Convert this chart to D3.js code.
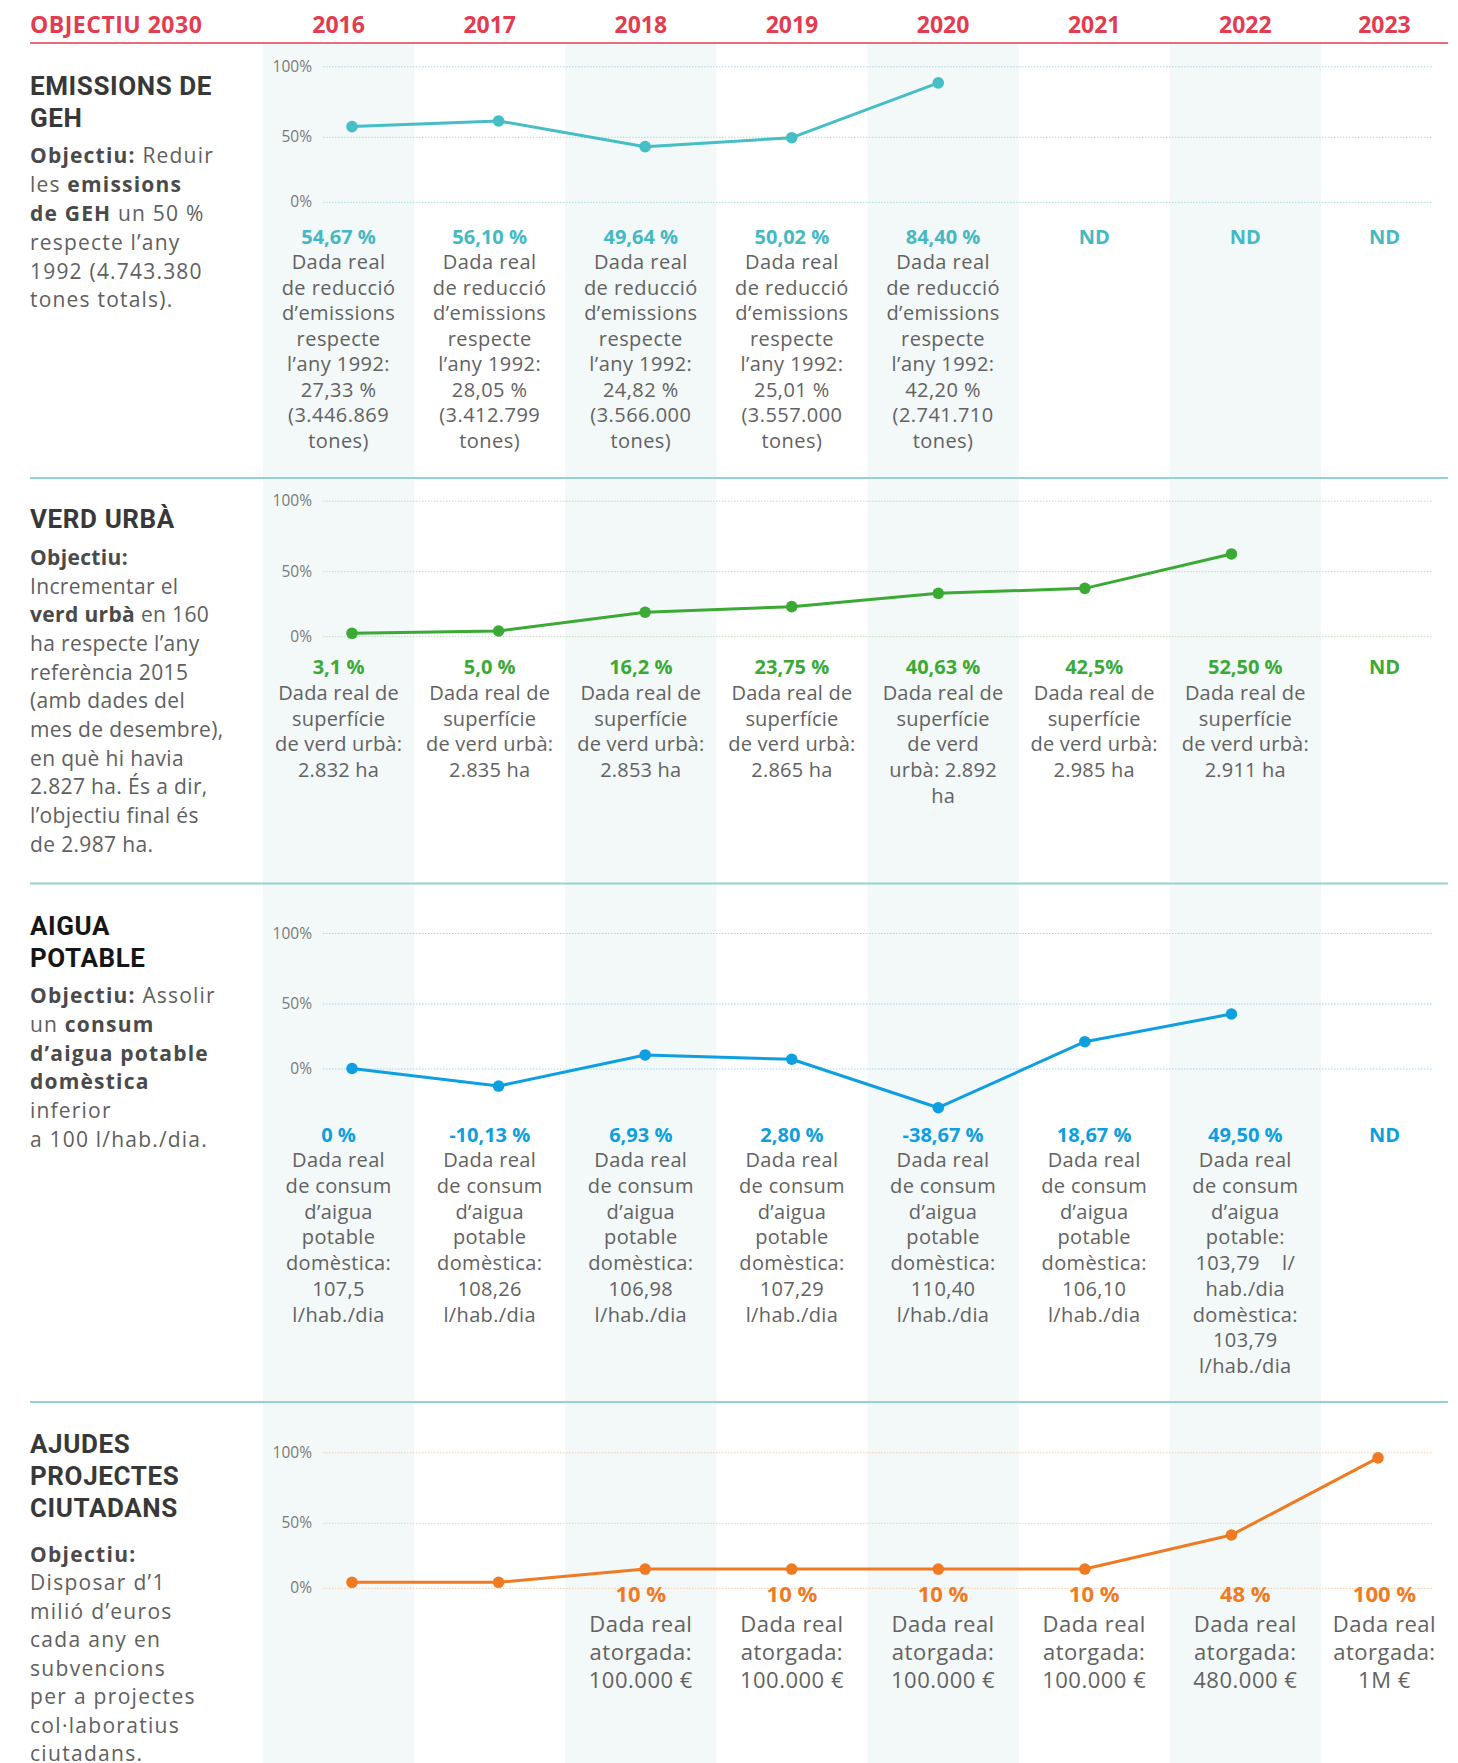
<!DOCTYPE html>
<html>
<head>
<meta charset="utf-8">
<script src="https://cdn.jsdelivr.net/npm/d3@7/dist/d3.min.js"></script>
<style>
  html, body { margin: 0; padding: 0; background: #fff; }
  svg { display: block; font-family: "Open Sans", sans-serif; }
</style>
</head>
<body>
<svg id="chart" width="1458" height="1763"></svg>
<script>
// ---------------- DATA ----------------
const headerLabel = "OBJECTIU 2030";
const years = ["2016", "2017", "2018", "2019", "2020", "2021", "2022", "2023"];
const tickValues = [0, 50, 100];
const tickLabels = ["0%", "50%", "100%"];

// Emissions de GEH (plotted values)
const emissionsValues = [57.6, 61.6, 42.8, 49.7, 88.6, null, null, null];
const emissionsLabels = ["54,67 %", "56,10 %", "49,64 %", "50,02 %", "84,40 %", "ND", "ND", "ND"];
const emissionsNotes = [
  ["Dada real", "de reducció", "d’emissions", "respecte", "l’any 1992:", "27,33 %", "(3.446.869", "tones)"],
  ["Dada real", "de reducció", "d’emissions", "respecte", "l’any 1992:", "28,05 %", "(3.412.799", "tones)"],
  ["Dada real", "de reducció", "d’emissions", "respecte", "l’any 1992:", "24,82 %", "(3.566.000", "tones)"],
  ["Dada real", "de reducció", "d’emissions", "respecte", "l’any 1992:", "25,01 %", "(3.557.000", "tones)"],
  ["Dada real", "de reducció", "d’emissions", "respecte", "l’any 1992:", "42,20 %", "(2.741.710", "tones)"],
  [], [], []
];
const emissionsTitle = ["EMISSIONS DE", "GEH"];
const emissionsDesc = ["**Objectiu:** Reduir", "les **emissions**", "**de GEH** un 50 %", "respecte l’any", "1992 (4.743.380", "tones totals)."];

// Verd urbà
const verdValues = [2.6, 4.4, 18.8, 23.1, 33.4, 37.2, 62.6, null];
const verdLabels = ["3,1 %", "5,0 %", "16,2 %", "23,75 %", "40,63 %", "42,5%", "52,50 %", "ND"];
const verdNotes = [
  ["Dada real de", "superfície", "de verd urbà:", "2.832 ha"],
  ["Dada real de", "superfície", "de verd urbà:", "2.835 ha"],
  ["Dada real de", "superfície", "de verd urbà:", "2.853 ha"],
  ["Dada real de", "superfície", "de verd urbà:", "2.865 ha"],
  ["Dada real de", "superfície", "de verd", "urbà: 2.892", "ha"],
  ["Dada real de", "superfície", "de verd urbà:", "2.985 ha"],
  ["Dada real de", "superfície", "de verd urbà:", "2.911 ha"],
  []
];
const verdTitle = ["VERD URBÀ"];
const verdDesc = ["**Objectiu:**", "Incrementar el", "**verd urbà** en 160", "ha respecte l’any", "referència 2015", "(amb dades del", "mes de desembre),", "en què hi havia", "2.827 ha. És a dir,", "l’objectiu final és", "de 2.987 ha."];

// Aigua potable
const aiguaValues = [0.4, -13.1, 10.8, 7.5, -29.8, 21.0, 42.3, null];
const aiguaLabels = ["0 %", "-10,13 %", "6,93 %", "2,80 %", "-38,67 %", "18,67 %", "49,50 %", "ND"];
const aiguaNotes = [
  ["Dada real", "de consum", "d’aigua", "potable", "domèstica:", "107,5", "l/hab./dia"],
  ["Dada real", "de consum", "d’aigua", "potable", "domèstica:", "108,26", "l/hab./dia"],
  ["Dada real", "de consum", "d’aigua", "potable", "domèstica:", "106,98", "l/hab./dia"],
  ["Dada real", "de consum", "d’aigua", "potable", "domèstica:", "107,29", "l/hab./dia"],
  ["Dada real", "de consum", "d’aigua", "potable", "domèstica:", "110,40", "l/hab./dia"],
  ["Dada real", "de consum", "d’aigua", "potable", "domèstica:", "106,10", "l/hab./dia"],
  ["Dada real", "de consum", "d’aigua", "potable:", "103,79\u00a0\u00a0\u00a0\u00a0l/", "hab./dia", "domèstica:", "103,79", "l/hab./dia"],
  []
];
const aiguaTitle = ["AIGUA", "POTABLE"];
const aiguaDesc = ["**Objectiu:** Assolir", "un **consum**", "**d’aigua potable**", "**domèstica**", "inferior", "a 100 l/hab./dia."];

// Ajudes projectes ciutadans
const ajudesValues = [4.6, 4.6, 14.8, 14.8, 14.8, 14.8, 41.0, 96.4];
const ajudesLabels = ["", "", "10 %", "10 %", "10 %", "10 %", "48 %", "100 %"];
const ajudesNotes = [
  [], [],
  ["Dada real", "atorgada:", "100.000 €"],
  ["Dada real", "atorgada:", "100.000 €"],
  ["Dada real", "atorgada:", "100.000 €"],
  ["Dada real", "atorgada:", "100.000 €"],
  ["Dada real", "atorgada:", "480.000 €"],
  ["Dada real", "atorgada:", "1M €"]
];
const ajudesTitle = ["AJUDES", "PROJECTES", "CIUTADANS"];
const ajudesDesc = ["**Objectiu:**", "Disposar d’1", "milió d’euros", "cada any en", "subvencions", "per a projectes", "col·laboratius", "ciutadans."];

// ---------------- LAYOUT ----------------
const W = 1458, H = 1763;
const RIGHT = 1448;
const svg = d3.select("#chart");
const colScale = d3.scaleBand().domain(years).range([263, 1472]);
const colCenter = d => (colScale(d) + Math.min(colScale(d) + colScale.bandwidth(), RIGHT)) / 2;
const xScale = d3.scalePoint().domain(years).range([352, 1378]);
const RED = "#e33b4f";

// shaded columns
svg.append("g").selectAll("rect")
  .data(years.filter((d, i) => i % 2 === 0 && i < 7))
  .join("rect")
  .attr("x", d => colScale(d)).attr("y", 44)
  .attr("width", colScale.bandwidth()).attr("height", H - 44)
  .attr("fill", "#f3f8f8");

// header
svg.append("text").attr("x", 30).attr("y", 33)
  .attr("font-size", 23).attr("font-weight", 700).attr("fill", RED)
  .attr("letter-spacing", 0.5)
  .text(headerLabel);
svg.append("g").selectAll("text").data(years).join("text")
  .attr("x", d => colCenter(d)).attr("y", 33)
  .attr("text-anchor", "middle").attr("font-size", 23).attr("font-weight", 700)
  .attr("fill", RED).text(d => d);
svg.append("line").attr("x1", 30).attr("x2", RIGHT).attr("y1", 43).attr("y2", 43)
  .attr("stroke", RED).attr("stroke-width", 1.6);

// separators
[478, 883.5, 1402].forEach(y => {
  svg.append("line").attr("x1", 30).attr("x2", RIGHT).attr("y1", y).attr("y2", y)
    .attr("stroke", "#96d2d2").attr("stroke-width", 2);
});

const sections = [
  { values: emissionsValues, labels: emissionsLabels, notes: emissionsNotes, title: emissionsTitle, desc: emissionsDesc,
    color: "#45bec6", labelColor: "#45b9c3", grid: "#a9dbde", y0: 202.3,
    titleY: 95, titleLH: 31.7, titleColor: "#383838", descY: 163.3, descLH: 28.8, descLS: 1.2,
    labelY: 244, noteY: 269.3, noteLH: 25.5, noteSize: 20, labelSize: 20, noteLS: 0.45 },
  { values: verdValues, labels: verdLabels, notes: verdNotes, title: verdTitle, desc: verdDesc,
    color: "#3aaa35", labelColor: "#3aaa35", grid: "#bfdcbd", y0: 636.7,
    titleY: 528.3, titleLH: 31.7, titleColor: "#383838", descY: 565, descLH: 28.67, descLS: 0.35,
    labelY: 674.3, noteY: 700, noteLH: 25.7, noteSize: 20, labelSize: 20, noteLS: 0.2 },
  { values: aiguaValues, labels: aiguaLabels, notes: aiguaNotes, title: aiguaTitle, desc: aiguaDesc,
    color: "#0e9fe0", labelColor: "#0e9fe0", grid: "#a3d5f0", y0: 1069,
    titleY: 935, titleLH: 32.3, titleColor: "#161616", descY: 1003.3, descLH: 28.7, descLS: 1.2,
    labelY: 1141.7, noteY: 1167.3, noteLH: 25.7, noteSize: 20, labelSize: 20, noteLS: 0.35 },
  { values: ajudesValues, labels: ajudesLabels, notes: ajudesNotes, title: ajudesTitle, desc: ajudesDesc,
    color: "#f07a22", labelColor: "#f07a22", grid: "#f5cba9", y0: 1588.3,
    titleY: 1453.3, titleLH: 32, titleColor: "#383838", descY: 1561.7, descLH: 28.5, descLS: 1.3,
    labelY: 1601.7, noteY: 1631.7, noteLH: 28.3, noteSize: 22, labelSize: 22, noteLS: 0.5 }
];

function richLine(textSel, str, normalColor, boldColor) {
  const parts = str.split("**");
  parts.forEach((p, i) => {
    if (!p) return;
    textSel.append("tspan")
      .attr("font-weight", i % 2 === 1 ? 700 : 400)
      .attr("fill", i % 2 === 1 ? boldColor : normalColor)
      .text(p);
  });
}

sections.forEach(s => {
  const g = svg.append("g");
  const y = d3.scaleLinear().domain([0, 50, 100]).range([s.y0, s.y0 - 65, s.y0 - 135.5]);

  // gridlines + tick labels
  g.append("g").selectAll("line").data(tickValues).join("line")
    .attr("x1", 323).attr("x2", 1433)
    .attr("y1", d => y(d)).attr("y2", d => y(d))
    .attr("stroke", s.grid).attr("stroke-width", 1).attr("stroke-dasharray", "1.5,1.5");
  g.append("g").selectAll("text").data(tickValues).join("text")
    .attr("x", 312).attr("y", d => y(d) + 5)
    .attr("text-anchor", "end").attr("font-size", 15.5).attr("fill", "#7a7a7a")
    .text((d, i) => tickLabels[i]);

  // line + points
  const pts = years.map((yr, i) => ({ yr, v: s.values[i] }));
  const line = d3.line().defined(d => d.v != null).x(d => xScale(d.yr)).y(d => y(d.v));
  g.append("path").datum(pts).attr("d", line)
    .attr("fill", "none").attr("stroke", s.color).attr("stroke-width", 3)
    .attr("stroke-linejoin", "round");
  g.append("g").selectAll("circle").data(pts.filter(d => d.v != null)).join("circle")
    .attr("cx", d => xScale(d.yr)).attr("cy", d => y(d.v)).attr("r", 5.8)
    .attr("fill", s.color);

  // title (one text per line)
  s.title.forEach((ln, i) => {
    g.append("text").attr("x", 30).attr("y", s.titleY + i * s.titleLH)
      .attr("font-family", "Roboto, 'Open Sans', sans-serif")
      .attr("font-size", 26).attr("font-weight", 700).attr("letter-spacing", 0.6)
      .attr("fill", s.titleColor).text(ln);
  });

  // description
  s.desc.forEach((ln, i) => {
    const tx = g.append("text").attr("x", 30).attr("y", s.descY + i * s.descLH)
      .attr("font-size", 21).attr("letter-spacing", s.descLS);
    richLine(tx, ln, "#606060", "#4a4a4a");
  });

  // value labels
  g.append("g").selectAll("text").data(years).join("text")
    .attr("x", d => colCenter(d)).attr("y", s.labelY)
    .attr("text-anchor", "middle").attr("font-size", s.labelSize).attr("font-weight", 700)
    .attr("fill", s.labelColor)
    .text((d, i) => s.labels[i]);

  // notes
  years.forEach((yr, i) => {
    const tx = g.append("text").attr("text-anchor", "middle")
      .attr("font-size", s.noteSize).attr("fill", "#626262").attr("letter-spacing", s.noteLS);
    s.notes[i].forEach((ln, j) => {
      tx.append("tspan").attr("x", colCenter(yr))
        .attr("y", s.noteY + j * s.noteLH).text(ln);
    });
  });
});
</script>
</body>
</html>
